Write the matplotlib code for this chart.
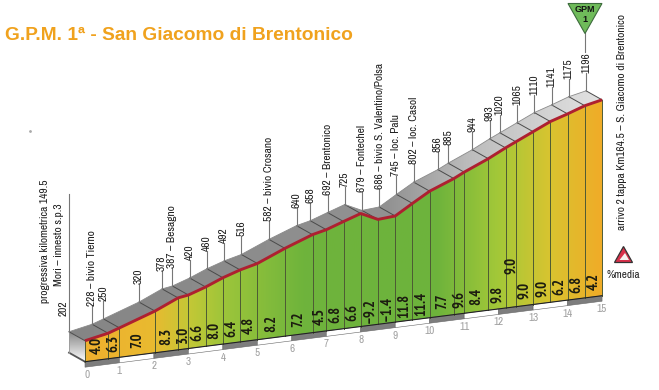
import matplotlib
matplotlib.use("Agg")
import matplotlib.font_manager as fm
import matplotlib.pyplot as plt
import numpy as np
from matplotlib.colors import LinearSegmentedColormap
from matplotlib.patches import Polygon
from matplotlib.transforms import Affine2D

# profile points: km from start, altitude, gradient of the stretch after each point
km = [0, 0.67, 1.0, 2.03, 2.7, 3.0, 3.5, 4.0, 4.5, 5.0, 5.8, 6.6, 7.0, 7.5, 8.0,
      8.5, 9.0, 9.5, 10.0, 10.7, 11.0, 11.7, 12.2, 12.5, 13.0, 13.5, 14.0, 14.5, 15]
altitude = [202, 228, 250, 320, 378, 387, 420, 460, 492, 516, 582, 640, 658, 692, 725,
            679, 686, 745, 802, 856, 885, 944, 993, 1020, 1065, 1110, 1141, 1175, 1196]
gradient = [4.0, 6.3, 7.0, 8.3, 3.0, 6.6, 8.0, 6.4, 4.8, 8.2, 7.2, 4.5, 6.8, 6.6,
            -9.2, -1.4, 11.8, 11.4, 7.7, 9.6, 8.4, 9.8, 9.0, 9.0, 9.0, 6.2, 6.8, 4.2]
places = {228: "bivio Tierno", 387: "Besagno", 582: "bivio Crosano", 692: "Brentonico",
          679: "Fontechel", 686: "bivio S. Valentino/Polsa", 745: "loc. Palu", 802: "loc. Casol"}
km_ticks = list(range(16))

title = "G.P.M. 1ª - San Giacomo di Brentonico"
start_lines = ["progressiva kilometrica 149.5", "Mori – innesto s.p.3"]
finish_line = "arrivo 2 tappa Km164.5 – S. Giacomo di Brentonico"

installed = set(f.name for f in fm.fontManager.ttflist)
NARROW = [n for n in ["Archivo Narrow", "PT Sans Narrow", "Liberation Sans Narrow"] if n in installed][:1] + ["Liberation Sans"]
NARROW_BOLD = [n for n in ["PT Sans Narrow", "Archivo Narrow", "Liberation Sans Narrow"] if n in installed][:1] + ["Liberation Sans"]
W, H = 659, 390
FLOOR = 83
INK = "#1e1e1e"

fig = plt.figure(figsize=(W / 100, H / 100), dpi=100)
ax = fig.add_axes([0, 0, 1, 1])
ax.set_xlim(0, W)
ax.set_ylim(H, 0)
ax.axis("off")

# (km, altitude) -> picture pixels, skewed like the printed road book
front = Affine2D.from_values(34.47, -4.4, 0, -0.176, 85, 361.7 + 0.176 * FLOOR) + ax.transData
back = Affine2D.from_values(34.47, -4.4, 0, -0.176, 69, 352.7 + 0.176 * FLOOR) + ax.transData


def px(k, a, dx=0, dy=0):
    return 85 + 34.47 * k + dx, 361.7 - 4.4 * k - 0.176 * (a - FLOOR) + dy


def small_text(x, y, s, size=8.2, color=INK):
    ax.text(x, y, s, rotation=90, ha="center", va="bottom", fontsize=size, family=NARROW, color=color, zorder=5)


k = np.array(km)
a = np.array(altitude)

# coloured side of the climb
side_cmap = LinearSegmentedColormap.from_list("side", [
    (0.0, "#efb02e"), (0.13, "#e9ba30"), (0.2, "#c4c836"), (0.27, "#9cc53a"),
    (0.42, "#6fb43c"), (0.68, "#6db33c"), (0.8, "#a3c838"), (0.9, "#d8c430"), (1.0, "#f0ac28")])
im = ax.imshow(np.linspace(0, 1, 256)[None, :], cmap=side_cmap, aspect="auto",
               extent=(85, 602, 370, 90), zorder=1)
side = Polygon(np.column_stack([np.r_[k, 15, 0], np.r_[a, FLOOR, FLOOR]]), transform=front,
               fc="none", ec="none")
ax.add_patch(side)
im.set_clip_path(side)

# grey road surface
road_cmap = LinearSegmentedColormap.from_list("road", [
    (0.0, "#858585"), (0.6, "#929292"), (0.75, "#bcbcbc"), (1.0, "#e2e2e2")])
im2 = ax.imshow(np.linspace(0, 1, 256)[None, :], cmap=road_cmap, aspect="auto",
                extent=(69, 602, 345, 85), zorder=1)
top_xy = [px(x, y, -16, -9) for x, y in zip(k, a)] + [px(x, y) for x, y in zip(k[::-1], a[::-1])]
top = Polygon(top_xy, fc="none", ec="none")
ax.add_patch(top)
im2.set_clip_path(top)

# left wall at the start
wall_cmap = LinearSegmentedColormap.from_list("wall", ["#858585", "#bdbdbd", "#f7f7f7"])
im3 = ax.imshow(np.linspace(0, 1, 64)[:, None], cmap=wall_cmap, aspect="auto",
                extent=(69, 85, 360, 331), zorder=1)
wall = Polygon([px(0, altitude[0], -16, -9), px(0, altitude[0]), px(0, FLOOR), px(0, FLOOR, -16, -9)],
               fc="none", ec="none")
ax.add_patch(wall)
im3.set_clip_path(wall)
ax.plot(*zip(px(0, FLOOR, -16, -9), px(0, FLOOR)), color="#555555", lw=1.3, zorder=2)
ax.plot(*zip(px(0, FLOOR, -16, -9), px(0, altitude[0], -16, -9)), color="#999999", lw=0.6, zorder=2)

# km strip under the profile
for i in km_ticks[:-1]:
    ax.add_patch(Polygon([px(i, FLOOR), px(i + 1, FLOOR), px(i + 1, FLOOR, 0, 5.5), px(i, FLOOR, 0, 5.5)],
                         fc="#7d7d7d" if i % 2 == 0 else "white", ec="#666666", lw=0.4, zorder=2))
for i in km_ticks:
    ax.text(*px(i, FLOOR, 2 if i == 0 else 0, 13.5), str(i), color="#a0a0a0", fontsize=8,
            family=NARROW, ha="center", va="center")

# stretch dividers, road edges
for x, y in zip(k, a):
    ax.plot([x, x], [FLOOR, y], transform=front, color="#4d5a34", lw=0.7, zorder=3)
    ax.plot(*zip(px(x, y, -16, -9), px(x, y)), color="#4a4a4a", lw=0.7, zorder=3)
ax.plot([0, 15], [FLOOR, FLOOR], transform=front, color="#222222", lw=0.8, zorder=3)
ax.plot(k, a, transform=front, color="#ae2030", lw=2.1, zorder=4, solid_capstyle="butt")
ax.plot(k, a, transform=back, color="#8a8a8a", lw=0.6, zorder=3)

# altitude labels and stems
for x, y in zip(k[1:], altitude[1:]):
    label = str(y) if y not in places else "%d – %s" % (y, places[y])
    bx, by = px(x, y, -16, -9)
    ax.plot([bx, bx], [by, by - 18], color="#777777", lw=0.8, zorder=3)
    small_text(bx, by - 18, label)

# start block
x0, y0 = px(0, altitude[0], -16, -9)
ax.plot([x0, x0], [y0, 194], color="#777777", lw=0.8, zorder=3)
small_text(x0 - 5, 316, "202")
small_text(45, 303, start_lines[0])
small_text(59, 286, start_lines[1])

# gradient values, one pushed up where the stretch is too narrow
for i, g in enumerate(gradient):
    mid = (km[i] + km[i + 1]) / 2
    lift = 27 if i == 22 else 0
    txt = ("%.1f" % g).replace("-", "–")
    ax.text(*px(mid, FLOOR, 0, -15 - lift), txt, rotation=90, ha="center", va="center",
            fontsize=10.5, family=NARROW_BOLD, weight="bold", color="#1c1c10", zorder=5)

# GPM flag
ax.plot([585, 585], [33, 52], color="#777777", lw=0.8, zorder=5)
ax.add_patch(Polygon([(568, 3.5), (602, 3.5), (585, 33.5)], fc="#6fbb5a", ec="#3d6b3d", lw=0.8, zorder=6))
ax.text(585, 10, "GPM", fontsize=6.5, weight="bold", family="Liberation Sans", ha="center", va="center", color="#111111", zorder=7)
ax.text(585, 20, "1", fontsize=6.5, weight="bold", family="Liberation Sans", ha="center", va="center", color="#111111", zorder=7)

# finish note and gradient key
small_text(622, 230, finish_line)
ax.add_patch(Polygon([(623.5, 246.5), (632.5, 262.5), (614.5, 262.5)], fc="#d8304a", ec="#333333", lw=0.9, zorder=6))
ax.add_patch(Polygon([(625, 253), (629, 260), (619.5, 260)], fc="#f4f0ee", ec="none", zorder=7))
ax.text(623, 275, "%media", fontsize=8, family=NARROW, ha="center", va="center", color="#222222")
ax.plot([30], [131], marker=".", ms=2, color="#aaaaaa")

ax.text(5, 35.5, title, fontsize=13.75, weight="bold", family="Liberation Sans", color="#f0a21e", ha="left", va="center")

ax.set_xlim(0, W)
ax.set_ylim(H, 0)
fig.savefig("out.png", dpi=100)
